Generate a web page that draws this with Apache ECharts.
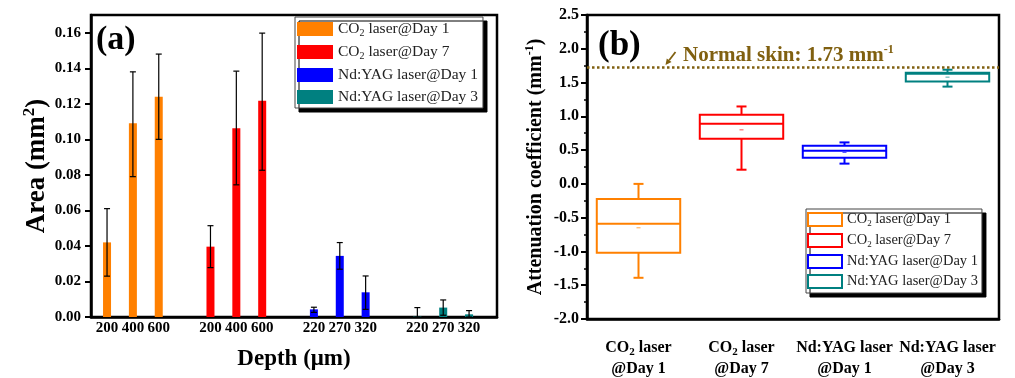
<!DOCTYPE html>
<html>
<head>
<meta charset="utf-8">
<script src="https://cdn.jsdelivr.net/npm/echarts@6/dist/echarts.min.js"></script>
<style>
html, body { margin: 0; padding: 0; background: #fff; }
#chart { width: 1015px; height: 378px; }
</style>
</head>
<body>
<div id="chart"></div>
<script>
var FONT = '"Liberation Serif", "Times New Roman", serif';
var OLIVE = '#806010';

// 组名 / 颜色
var groupNames = ['CO2 laser@Day 1', 'CO2 laser@Day 7', 'Nd:YAG laser@Day 1', 'Nd:YAG laser@Day 3'];
var groupColors = ['#ff8000', '#ff0000', '#0000ff', '#008080'];

// (a) 深度刻度标签，每组3个
var depthLabels = [['200', '400', '600'], ['200', '400', '600'], ['220', '270', '320'], ['220', '270', '320']];
var areaTicks = [0, 0.02, 0.04, 0.06, 0.08, 0.10, 0.12, 0.14, 0.16];

// (a) 面积 均值 / 误差下限 / 误差上限
var areaCO2Day1 = [0.042, 0.109, 0.124];
var lowCO2Day1 = [0.023, 0.079, 0.100];
var highCO2Day1 = [0.061, 0.138, 0.148];

var areaCO2Day7 = [0.0396, 0.1063, 0.1217];
var lowCO2Day7 = [0.0278, 0.0744, 0.0826];
var highCO2Day7 = [0.0514, 0.1384, 0.1598];

var areaYAGDay1 = [0.0043, 0.0344, 0.0139];
var lowYAGDay1 = [0.0026, 0.0269, 0.0043];
var highYAGDay1 = [0.0055, 0.0419, 0.0231];

var areaYAGDay3 = [0.0003, 0.0053, 0.0015];
var lowYAGDay3 = [0.0, 0.001, 0.0];
var highYAGDay3 = [0.0053, 0.0096, 0.0036];

var areaVals = [areaCO2Day1, areaCO2Day7, areaYAGDay1, areaYAGDay3];
var areaLows = [lowCO2Day1, lowCO2Day7, lowYAGDay1, lowYAGDay3];
var areaHighs = [highCO2Day1, highCO2Day7, highYAGDay1, highYAGDay3];

// (b) 箱线图
var boxCats = ['CO2 laser\n@Day 1', 'CO2 laser\n@Day 7', 'Nd:YAG laser\n@Day 1', 'Nd:YAG laser\n@Day 3'];
var boxMin = [-1.39, 0.21, 0.30, 1.44];
var boxQ1 = [-1.02, 0.668, 0.388, 1.516];
var boxMedian = [-0.59, 0.89, 0.49, 1.63];
var boxQ3 = [-0.223, 1.024, 0.565, 1.645];
var boxMax = [0.0, 1.146, 0.614, 1.69];
var boxMean = [-0.65, 0.80, 0.466, 1.58];
var normalSkin = 1.73;

var myChart = echarts.init(document.getElementById('chart'));

// 每组占4个槽位（第4个为空）
var slotPos = [];
var slotLabel = {};
depthLabels.forEach(function (labels, g) {
    labels.forEach(function (t, k) {
        slotPos.push(g * 4 + k);
        slotLabel[g * 4 + k] = t;
    });
});

function co2Rich(name, n, s) {
    if (name.indexOf('CO2') === 0) {
        return '{' + n + '|CO}{' + s + '|2}{' + n + '|' + name.slice(3) + '}';
    }
    return '{' + n + '|' + name + '}';
}

//误差棒
function renderError(params, api) {
    var x = api.value(0);
    var lo = api.coord([x, api.value(1)]);
    var hi = api.coord([x, api.value(2)]);
    var hw = 3;
    var st = { stroke: '#000', lineWidth: 1.2 };
    return {
        type: 'group',
        children: [
            { type: 'line', shape: { x1: lo[0], y1: lo[1], x2: hi[0], y2: hi[1] }, style: st },
            { type: 'line', shape: { x1: lo[0] - hw, y1: lo[1], x2: lo[0] + hw, y2: lo[1] }, style: st },
            { type: 'line', shape: { x1: hi[0] - hw, y1: hi[1], x2: hi[0] + hw, y2: hi[1] }, style: st }
        ]
    };
}

//箱线
function renderBox(params, api) {
    var c = api.value(0);
    var color = api.visual('color');
    var w = api.size([1, 0])[0] * 0.81;
    var pMin = api.coord([c, api.value(1)]);
    var pQ1 = api.coord([c, api.value(2)]);
    var pMed = api.coord([c, api.value(3)]);
    var pQ3 = api.coord([c, api.value(4)]);
    var pMax = api.coord([c, api.value(5)]);
    var pMean = api.coord([c, api.value(6)]);
    var x = pMed[0];
    var cap = 5;
    var st = { stroke: color, lineWidth: 2, fill: null };
    return {
        type: 'group',
        children: [
            { type: 'rect', shape: { x: x - w / 2, y: pQ3[1], width: w, height: pQ1[1] - pQ3[1] }, style: st },
            { type: 'line', shape: { x1: x - w / 2, y1: pMed[1], x2: x + w / 2, y2: pMed[1] }, style: st },
            { type: 'line', shape: { x1: x, y1: pQ3[1], x2: x, y2: pMax[1] }, style: st },
            { type: 'line', shape: { x1: x - cap, y1: pMax[1], x2: x + cap, y2: pMax[1] }, style: st },
            { type: 'line', shape: { x1: x, y1: pQ1[1], x2: x, y2: pMin[1] }, style: st },
            { type: 'line', shape: { x1: x - cap, y1: pMin[1], x2: x + cap, y2: pMin[1] }, style: st },
            { type: 'line', shape: { x1: x - 2, y1: pMean[1], x2: x + 2, y2: pMean[1] }, style: { stroke: color, lineWidth: 1, opacity: 0.7 } }
        ]
    };
}

var series = [];
//柱
groupNames.forEach(function (name, g) {
    series.push({
        name: name,
        type: 'bar',
        xAxisIndex: 0,
        yAxisIndex: 0,
        barWidth: 8,
        barGap: '-100%',
        itemStyle: { color: groupColors[g] },
        data: areaVals[g].map(function (v, k) { return [g * 4 + k, v]; })
    });
});
var errData = [];
groupNames.forEach(function (name, g) {
    areaVals[g].forEach(function (v, k) {
        errData.push([g * 4 + k, areaLows[g][k], areaHighs[g][k]]);
    });
});
series.push({
    name: 'error',
    type: 'custom',
    xAxisIndex: 0,
    yAxisIndex: 0,
    z: 5,
    renderItem: renderError,
    encode: { x: 0, y: [1, 2] },
    data: errData
});
//箱
groupNames.forEach(function (name, g) {
    var s = {
        name: name,
        type: 'custom',
        xAxisIndex: 1,
        yAxisIndex: 1,
        itemStyle: { color: groupColors[g] },
        renderItem: renderBox,
        encode: { x: 0, y: [1, 2, 3, 4, 5, 6] },
        data: [[g, boxMin[g], boxQ1[g], boxMedian[g], boxQ3[g], boxMax[g], boxMean[g]]]
    };
    if (g === 0) {
        s.markLine = {
            silent: true,
            symbol: 'none',
            label: { show: false },
            lineStyle: { type: 'dotted', color: OLIVE, width: 2.5 },
            data: [{ yAxis: normalSkin }]
        };
    }
    series.push(s);
});

var legendBox = {
    orient: 'vertical', icon: 'rect', selectedMode: false,
    backgroundColor: '#fff', borderColor: '#444', borderWidth: 1,
    shadowColor: '#000', shadowBlur: 0.1, shadowOffsetX: 4, shadowOffsetY: 4
};

var option = {
    animation: false,
    backgroundColor: '#fff',
    title: [
        { text: '(a)', left: 96, top: 23, padding: 0, textStyle: { fontFamily: FONT, fontWeight: 'bold', fontSize: 34, color: '#000' } },
        { text: '(b)', left: 598, top: 28, padding: 0, textStyle: { fontFamily: FONT, fontWeight: 'bold', fontSize: 35, color: '#000' } },
        {
            text: '{t|Normal skin: 1.73 mm}{u|-1}', left: 683, top: 44, padding: 0,
            textStyle: {
                rich: {
                    t: { fontFamily: FONT, fontWeight: 'bold', fontSize: 21, color: OLIVE, lineHeight: 23 },
                    u: { fontFamily: FONT, fontWeight: 'bold', fontSize: 12, color: OLIVE, verticalAlign: 'top', lineHeight: 12 }
                }
            }
        }
    ],
    legend: [
        Object.assign({}, legendBox, {
            left: 295, top: 17, padding: [4, 5, 3, 2], itemGap: 6,
            itemWidth: 36, itemHeight: 14,
            data: groupNames.map(function (n, i) { return { name: n, itemStyle: { color: groupColors[i], borderWidth: 0 } }; }),
            formatter: function (name) { return co2Rich(name, 'n', 's'); },
            textStyle: {
                rich: {
                    n: { fontFamily: FONT, fontSize: 15.5, color: '#222', lineHeight: 18 },
                    s: { fontFamily: FONT, fontSize: 10, color: '#222', verticalAlign: 'bottom', lineHeight: 11 }
                }
            }
        }),
        Object.assign({}, legendBox, {
            left: 806, top: 209, padding: [3, 4, 4, 1], itemGap: 5,
            itemWidth: 34, itemHeight: 13,
            data: groupNames.map(function (n, i) { return { name: n, itemStyle: { color: '#fff', borderColor: groupColors[i], borderWidth: 2 } }; }),
            formatter: function (name) { return co2Rich(name, 'n', 's'); },
            textStyle: {
                rich: {
                    n: { fontFamily: FONT, fontSize: 14.5, color: '#222', lineHeight: 17 },
                    s: { fontFamily: FONT, fontSize: 9, color: '#222', verticalAlign: 'bottom', lineHeight: 10 }
                }
            }
        })
    ],
    grid: [
        { left: 91, top: 15, width: 406, height: 302, show: true, borderColor: '#000', borderWidth: 2.5, backgroundColor: 'transparent' },
        { left: 587, top: 15, width: 412, height: 304, show: true, borderColor: '#000', borderWidth: 2.5, backgroundColor: 'transparent' }
    ],
    xAxis: [
        {
            type: 'value', gridIndex: 0, min: -0.62, max: 15.08,
            splitLine: { show: false },
            axisLine: { onZero: false, lineStyle: { color: '#000', width: 2.5 } },
            axisTick: { show: false },
            axisLabel: {
                customValues: slotPos,
                formatter: function (v) { return slotLabel[Math.round(v)] || ''; },
                fontFamily: FONT, fontWeight: 'bold', fontSize: 15, color: '#000', margin: 4
            },
            name: 'Depth (\u03bcm)', nameLocation: 'middle', nameGap: 31,
            nameTextStyle: { fontFamily: FONT, fontWeight: 'bold', fontSize: 23, color: '#000' }
        },
        {
            type: 'category', gridIndex: 1, data: boxCats, boundaryGap: true,
            axisLine: { onZero: false, lineStyle: { color: '#000', width: 2.5 } },
            axisTick: { alignWithLabel: true, length: 6, lineStyle: { color: '#000', width: 2 } },
            axisLabel: {
                interval: 0, margin: 18,
                formatter: function (v) {
                    var parts = v.split('\n');
                    return co2Rich(parts[0], 'b', 'bs') + '\n{b|' + parts[1] + '}';
                },
                rich: {
                    b: { fontFamily: FONT, fontWeight: 'bold', fontSize: 16, color: '#000', lineHeight: 21 },
                    bs: { fontFamily: FONT, fontWeight: 'bold', fontSize: 11, color: '#000', verticalAlign: 'bottom', lineHeight: 12 }
                }
            }
        }
    ],
    yAxis: [
        {
            type: 'value', gridIndex: 0, min: 0, max: 0.17,
            splitLine: { show: false },
            axisLine: { show: true, onZero: false, lineStyle: { color: '#000', width: 2.5 } },
            axisTick: { show: true, customValues: areaTicks, length: 6, lineStyle: { color: '#000', width: 2 } },
            axisLabel: {
                customValues: areaTicks,
                formatter: function (v) { return v.toFixed(2); },
                fontFamily: FONT, fontWeight: 'bold', fontSize: 15, color: '#000', margin: 10
            },
            name: '{n|Area (mm}{p|2}{n|)}', nameLocation: 'middle', nameRotate: 90, nameGap: 29,
            nameTextStyle: {
                rich: {
                    n: { fontFamily: FONT, fontWeight: 'bold', fontSize: 27, color: '#000', lineHeight: 32 },
                    p: { fontFamily: FONT, fontWeight: 'bold', fontSize: 17, color: '#000', verticalAlign: 'top', lineHeight: 17 }
                }
            }
        },
        {
            type: 'value', gridIndex: 1, min: -2, max: 2.5, interval: 0.5,
            splitLine: { show: false },
            axisLine: { show: true, onZero: false, lineStyle: { color: '#000', width: 2.5 } },
            axisTick: { show: true, length: 6, lineStyle: { color: '#000', width: 2 } },
            minorTick: { show: true, splitNumber: 2, length: 3, lineStyle: { color: '#000', width: 1.5 } },
            axisLabel: {
                formatter: function (v) { return v.toFixed(1); },
                fontFamily: FONT, fontWeight: 'bold', fontSize: 16, color: '#000', margin: 8
            },
            name: '{n|Attenuation coefficient (mm}{p|-1}{n|)}', nameLocation: 'middle', nameRotate: 90, nameGap: 39,
            nameTextStyle: {
                rich: {
                    n: { fontFamily: FONT, fontWeight: 'bold', fontSize: 20, color: '#000', lineHeight: 24 },
                    p: { fontFamily: FONT, fontWeight: 'bold', fontSize: 12, color: '#000', verticalAlign: 'top', lineHeight: 12 }
                }
            }
        }
    ],
    series: series
};

myChart.setOption(option);

// 指向正常皮肤线的小箭头
var base = myChart.convertToPixel({ gridIndex: 1 }, [0, normalSkin]);
var tipX = base[0] + 27, tipY = base[1] - 2;
var fromX = tipX + 10, fromY = tipY - 13;
var dx = tipX - fromX, dy = tipY - fromY;
var len = Math.sqrt(dx * dx + dy * dy);
var ux = dx / len, uy = dy / len;
var bx = tipX - ux * 6, by = tipY - uy * 6;
myChart.setOption({
    graphic: [
        { type: 'line', silent: true, shape: { x1: fromX, y1: fromY, x2: bx, y2: by }, style: { stroke: OLIVE, lineWidth: 1.8 } },
        {
            type: 'polygon', silent: true,
            shape: { points: [[tipX, tipY], [bx - uy * 3, by + ux * 3], [bx + uy * 3, by - ux * 3]] },
            style: { fill: OLIVE }
        }
    ]
});
</script>
</body>
</html>
